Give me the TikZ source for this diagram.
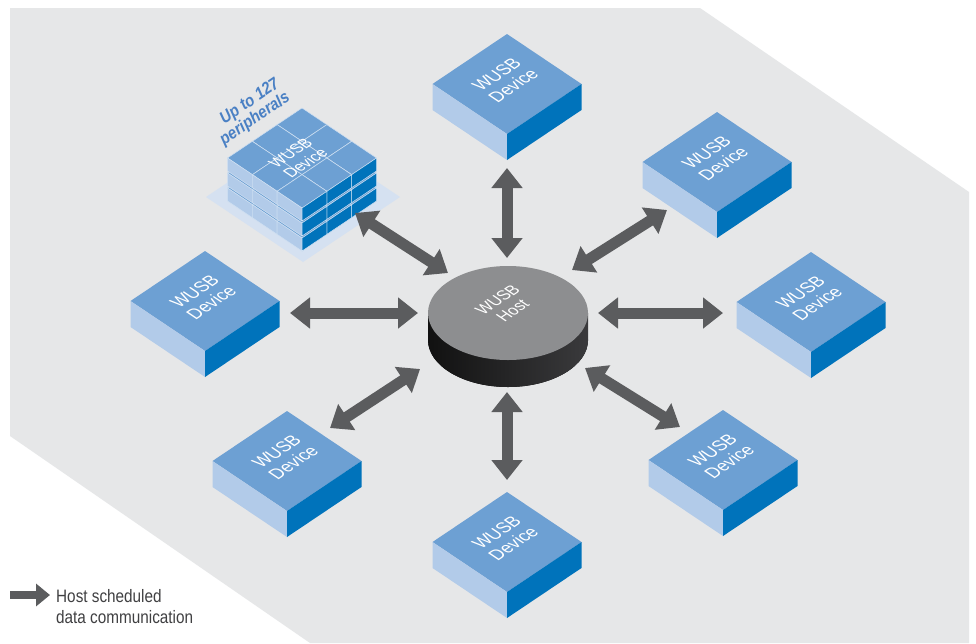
\documentclass[tikz,border=0pt]{standalone}
\usepackage{fontspec}
\usetikzlibrary{arrows.meta}
\newfontfamily\devfont[FakeStretch=0.88]{Liberation Sans}
\newfontfamily\legfont[FakeStretch=0.85]{Liberation Sans}
\definecolor{bgc}{HTML}{E6E7E8}
\definecolor{topc}{HTML}{6DA0D3}
\definecolor{leftc}{HTML}{B2CBE9}
\definecolor{rightc}{HTML}{0073BB}
\definecolor{platec}{HTML}{D5E1F1}
\definecolor{gridc}{HTML}{CFE0F2}
\definecolor{arrc}{HTML}{5B5C5E}
\definecolor{hosttop}{HTML}{8D8E90}
\definecolor{hostsideA}{HTML}{111111}
\definecolor{hostsideB}{HTML}{3A3A3C}
\definecolor{labblue}{HTML}{4A80C4}
\definecolor{legc}{HTML}{404042}
\tikzset{
  devtext/.style={text=white, font=\devfont\fontsize{15}{16}\selectfont, align=center, inner sep=0pt, transform shape},
  bigarrow/.style={draw=arrc, line width=11pt, {Triangle[width=30pt,length=20pt]}-{Triangle[width=30pt,length=20pt]}},
  legarrow/.style={draw=arrc, line width=8pt, -{Triangle[width=22pt,length=14pt]}},
  legtext/.style={text=legc, font=\legfont\fontsize{18}{21}\selectfont, inner sep=0pt, anchor=base west},
  uplab/.style={text=labblue, font=\devfont\bfseries\itshape\fontsize{17}{18}\selectfont, inner sep=0pt, rotate=34},
  wdev/.pic={
    \fill[topc] (-74.5,0) -- (0,-50) -- (74.5,0) -- (0,50) -- cycle;
    \fill[leftc] (-74.5,0) -- (0,50) -- (0,76) -- (-74.5,26) -- cycle;
    \fill[rightc] (0,50) -- (74.5,0) -- (74.5,26) -- (0,76) -- cycle;
    \begin{scope}[shift={(-2,-4)}]
      \node[devtext, cm={1.04,0.696,-1.04,0.696,(0,0)}] (-txt) at (0,0) {WUSB\\Device};
    \end{scope}
  },
}
\begin{document}
\begin{tikzpicture}[x=1pt,y=-1pt]
\useasboundingbox (0,0) rectangle (976,643);
\fill[white] (0,0) rectangle (976,643);
\fill[bgc] (10,8) -- (700,8) -- (969,192) -- (969,643) -- (310,643) -- (10,436) -- cycle;

% devices
\pic (dev1) at (507,84) {wdev};
\pic (dev2) at (717,162) {wdev};
\pic (dev3) at (811,302) {wdev};
\pic (dev4) at (723,460) {wdev};
\pic (dev5) at (507,542) {wdev};
\pic (dev6) at (287,461) {wdev};
\pic (dev7) at (205,301) {wdev};

% stack of peripherals
\fill[platec] (206,197) -- (303,132) -- (400,197) -- (303,262) -- cycle;
\foreach \dy in {30,15,0}{
  \foreach \i/\j in {0/2,0/1,1/2,0/0,1/1,2/2,1/0,2/1,2/0}{
    \pgfmathsetmacro\px{227.5+(\i+\j)*24.833}
    \pgfmathsetmacro\py{158+\dy+(\i-\j)*16.667}
    \filldraw[fill=topc, draw=gridc, line width=0.5pt] (\px,\py) -- ++(24.833,-16.667) -- ++(24.833,16.667) -- ++(-24.833,16.667) -- cycle;
    \filldraw[fill=leftc, draw=gridc, line width=0.5pt] (\px,\py) -- ++(24.833,16.667) -- ++(0,13) -- ++(-24.833,-16.667) -- cycle;
    \filldraw[fill=rightc, draw=gridc, line width=0.5pt] (\px+24.833,\py+16.667) -- ++(24.833,-16.667) -- ++(0,13) -- ++(-24.833,16.667) -- cycle;
  }
}
\coordinate (stack) at (302,158);
\begin{scope}[shift={(298,158)}]
  \node[devtext, cm={0.93,0.62,-0.93,0.62,(0,0)}] (stacktxt) at (0,0) {WUSB\\Device};
\end{scope}
\node[uplab] (up1) at (250,102) {Up to 127};
\node[uplab] (up2) at (255,119) {peripherals};

% host
\coordinate (host) at (508,313);
\fill[left color=hostsideA, right color=hostsideB] (508,340) ellipse[x radius=80pt, y radius=47pt];
\fill[left color=hostsideA, right color=hostsideB] (428,313) rectangle (588,340);
\fill[hosttop] (508,313) ellipse[x radius=80pt, y radius=47pt];
\begin{scope}[shift={(505,305)}]
  \node[devtext, cm={0.95,0.64,-0.95,0.64,(0,0)}] (hosttxt) at (0,0) {WUSB\\Host};
\end{scope}

% arrow end points
\coordinate (a1s) at (507,168); \coordinate (a1e) at (507,258);
\coordinate (a2s) at (355,213); \coordinate (a2e) at (448,273);
\coordinate (a3s) at (667,210); \coordinate (a3e) at (572,270);
\coordinate (a4s) at (290,313); \coordinate (a4e) at (418,313);
\coordinate (a5s) at (598,313); \coordinate (a5e) at (723,313);
\coordinate (a6s) at (420,369); \coordinate (a6e) at (330,428);
\coordinate (a7s) at (585,368); \coordinate (a7e) at (680,427);
\coordinate (a8s) at (507,392); \coordinate (a8e) at (507,480);
\foreach \k in {1,...,8}{ \draw[bigarrow] (a\k s) -- (a\k e); }

% legend
\coordinate (legs) at (10,595); \coordinate (lege) at (50,595);
\draw[legarrow] (legs) -- (lege);
\node[legtext] (leg1) at (56,602) {Host scheduled};
\node[legtext] (leg2) at (56,623) {data communication};
\end{tikzpicture}
\end{document}
